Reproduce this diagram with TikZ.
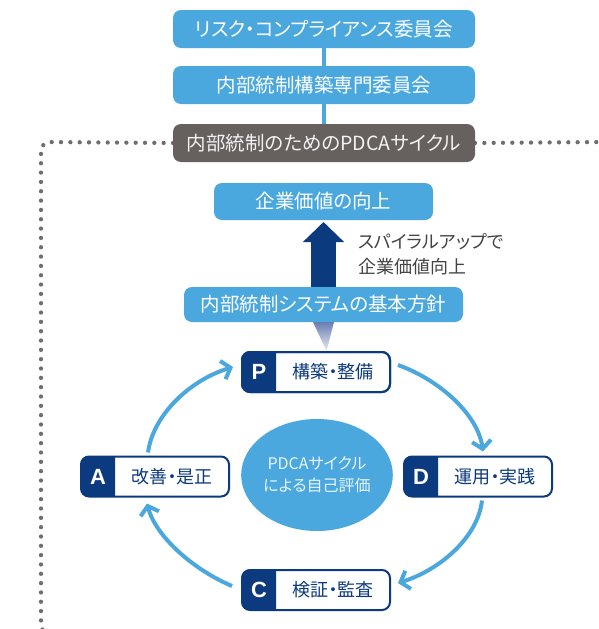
\documentclass[tikz,border=0pt]{standalone}
\usepackage{fontspec}
\setmainfont{Noto Sans CJK JP}[RawFeature=+palt]
\newfontfamily\latinbold{Liberation Sans}[BoldFont={Liberation Sans Bold}]
\usetikzlibrary{arrows.meta,shapes.geometric,calc,backgrounds}
\definecolor{lblue}{RGB}{74,168,222}
\definecolor{dblue}{RGB}{12,58,126}
\definecolor{gbox}{RGB}{102,97,95}
\definecolor{dotgray}{RGB}{110,110,110}
\definecolor{txtgray}{RGB}{68,68,68}
\definecolor{shadetop}{RGB}{105,125,178}
\begin{document}
\begin{tikzpicture}[x=1pt,y=-1pt,
  topbox/.style={fill=lblue, rounded corners=8pt, minimum width=302pt, minimum height=38pt,
    text=white, inner sep=0pt, outer sep=0pt, font=\fontsize{19.5pt}{22pt}\selectfont},
  graybox/.style={topbox, fill=gbox, text=white!92!gbox, font=\fontsize{19.5pt}{22pt}\selectfont},
  pbox/.style={fill=white, minimum width=148pt, minimum height=40pt, inner sep=0pt, outer sep=0pt},
  pframe/.style={draw=dblue, line width=2pt, rounded corners=8pt},
  ptext/.style={text=dblue, inner sep=0pt, font=\fontsize{18pt}{20pt}\selectfont},
  pletter/.style={text=white, inner sep=0pt, font=\latinbold\bfseries\fontsize{22pt}{22pt}\selectfont},
  cyc/.style={draw=lblue, line width=4pt, -{Straight Barb[length=8pt,width=19pt]}},
  dotline/.style={draw=dotgray, line width=4.3pt, line cap=round, dash pattern=on 0pt off 9.33pt, rounded corners=9pt},
  link/.style={draw=lblue, line width=4pt}
]
\clip (0,0) rectangle (598,629);

% dotted frame corners
\coordinate (dl1) at (41,142);
\coordinate (dl2) at (41,634);
\coordinate (dl3) at (120,634);
\coordinate (dr1) at (606,142);
\coordinate (dr2) at (606,200);

% top boxes
\node[topbox] (b1) at (324,29) {リスク・コンプライアンス委員会};
\node[topbox] (b2) at (324,85) {内部統制構築専門委員会};
\node[graybox] (b3) at (324,143) {内部統制のためのPDCAサイクル};
\begin{pgfonlayer}{background}
\fill[white] (0,0) rectangle (598,629);
\draw[dotline] (b3.west) -- (dl1) -- (dl2) -- (dl3);
\draw[dotline] (b3.east) -- (dr1) -- (dr2);
\end{pgfonlayer}
\draw[link] (b1) -- (b2);
\draw[link] (b2) -- (b3);

% value
\node[topbox, minimum width=219pt, minimum height=37pt] (val) at (323.5,201.5) {企業価値の向上};
\node[topbox, minimum width=279pt, minimum height=35pt] (base) at (323.5,304.5) {内部統制システムの基本方針};
\draw[dblue, line width=25pt, -{Triangle[width=40pt,length=20pt]}] ([yshift=0.5pt]base.north) -- ([yshift=-2pt]val.south);
\node[anchor=west, align=left, inner sep=0pt, text=txtgray, font=\fontsize{18pt}{25pt}\selectfont] (spiral) at (358,254) {スパイラルアップで\\企業価値向上};

% PDCA boxes
\foreach \n/\l/\t/\x/\y in {P/P/構築・整備/316/372, D/D/運用・実践/478/476.5, A/A/改善・是正/155/476.5, C/C/検証・監査/316/590}{
  \node[pbox] (\n) at (\x,\y) {};
  \begin{scope}
    \clip (\n.north west) rectangle ([xshift=34pt]\n.south west);
    \fill[dblue, rounded corners=8pt] (\n.north west) rectangle (\n.south east);
  \end{scope}
  \draw[pframe] (\n.north west) rectangle (\n.south east);
  \node[pletter] (\n l) at ([xshift=17pt]\n.west) {\l};
  \node[ptext] (\n t) at ([xshift=17pt]\n.center) {\t};
}

% gradient pointer
\shade[top color=shadetop, bottom color=white!85!shadetop]
  ([xshift=-10.5pt]base.south) -- ([xshift=10.5pt]base.south) -- ([xshift=10.5pt,yshift=1pt]P.north) -- cycle;
\draw[pframe] (P.north west) rectangle (P.south east);

% center ellipse
\node[ellipse, fill=lblue, minimum width=138pt, minimum height=112pt, inner sep=0pt,
  text=white!88!lblue, align=center, font=\fontsize{16pt}{22pt}\selectfont] (E) at (317,475)
  {PDCAサイクル\\による自己評価};

% cycle arrows
\draw[cyc] ([shift={(8,-7)}]P.east) .. controls (440,380) and (478,415) .. ([shift={(5,-5)}]D.north);
\draw[cyc] ([shift={(4,4)}]D.south) .. controls (478,537) and (440,570) .. ([shift={(8,-7)}]C.east);
\draw[cyc] ([shift={(-10,-4)}]C.west) .. controls (194,570) and (156,537) .. ([shift={(-8,7)}]A.south);
\draw[cyc] ([shift={(-7,-4)}]A.north) .. controls (153,415) and (190,380) .. ([shift={(-9,-5)}]P.west);
\end{tikzpicture}
\end{document}
